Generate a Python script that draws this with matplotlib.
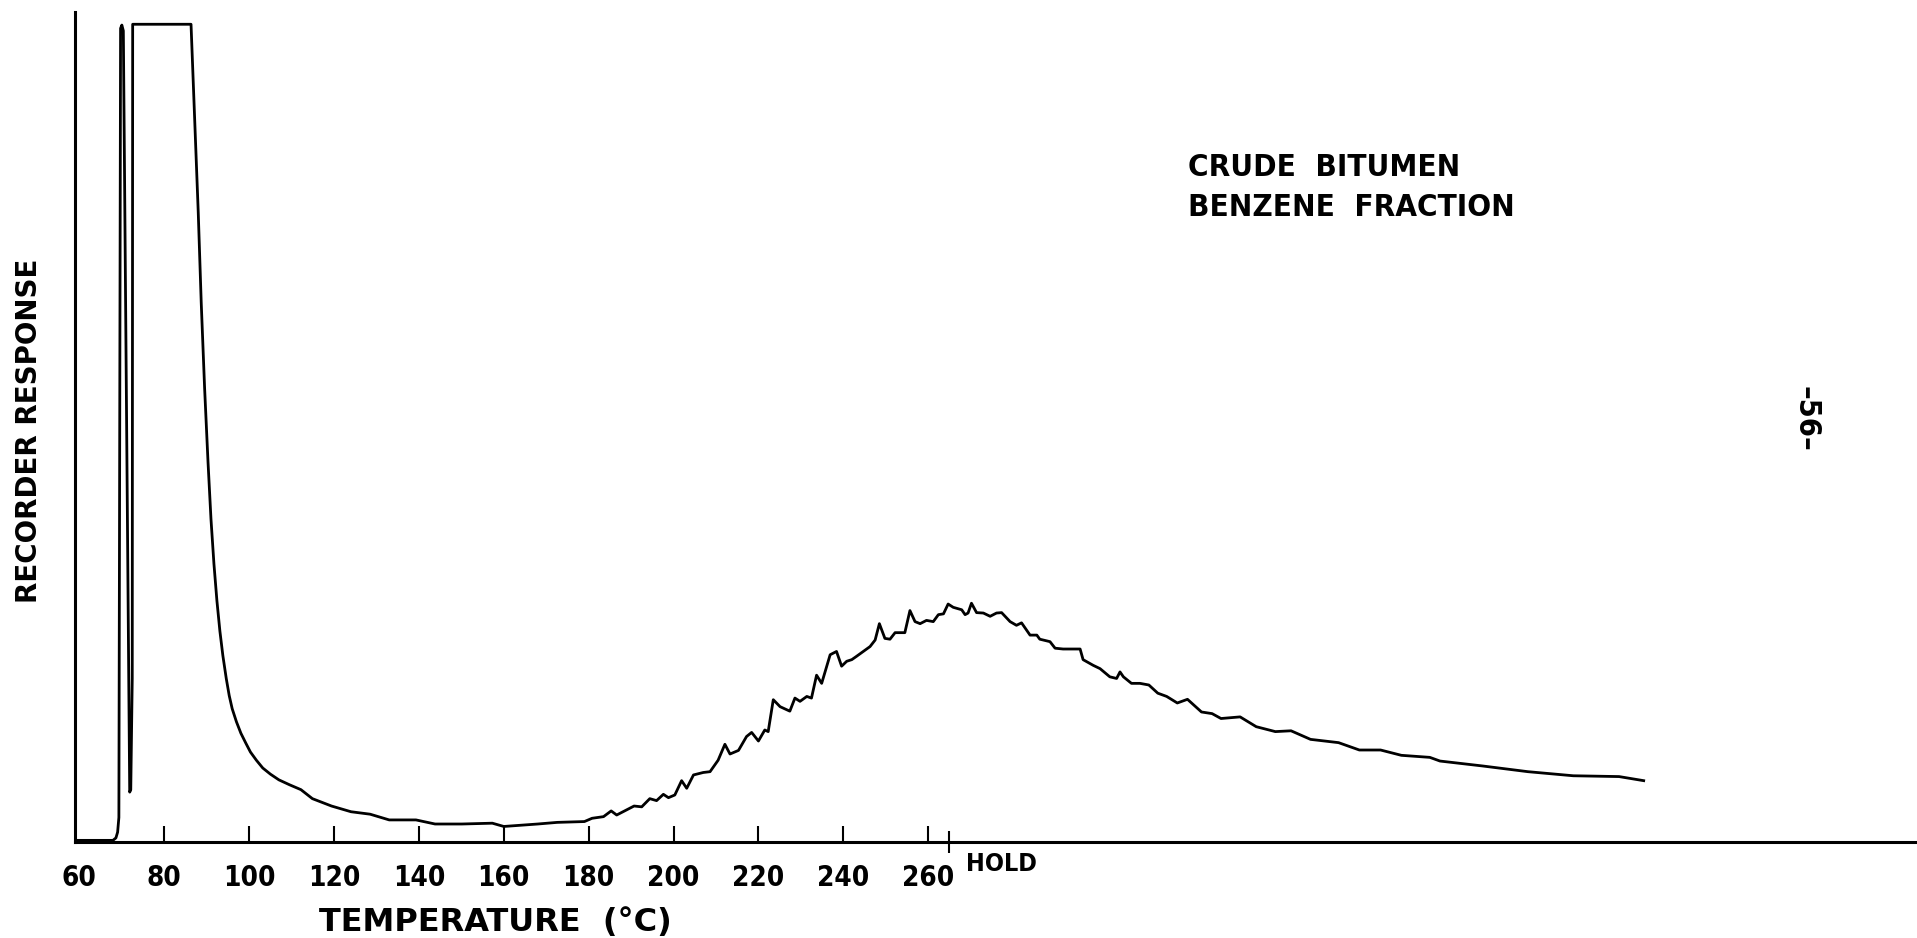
import matplotlib
matplotlib.use('Agg')
import matplotlib.pyplot as plt

plt.rcParams['font.family'] = 'DejaVu Sans'
plt.rcParams['font.weight'] = 'bold'
plt.rcParams['font.stretch'] = 'condensed'

# recorder trace: temperature (deg C, hold continues on same scale)
# and response in % of full scale
temp = [59.0, 67.9, 68.6, 69.0, 69.3, 69.7, 70.0, 70.35, 71.85, 72.1, 72.45, 72.55,
        86.3, 88.0, 88.7, 89.5, 90.3, 91.0, 91.7, 92.4, 93.1, 93.8, 94.6, 95.3,
        96.0, 97.0, 98.05, 99.2, 100.3, 101.7, 103.2, 105.0, 107.0, 109.5,
        112.2, 114.9, 119.4, 124.0, 128.5, 133.0, 139.3, 143.8, 150.1,
        157.3, 160.0, 168.0, 172.6, 179.0, 180.8, 183.5, 185.3, 186.6, 190.7, 192.5,
        194.4, 196.0, 197.6, 198.8, 200.3, 201.9, 203.1, 204.7, 207.0, 208.6, 210.5,
        212.1, 213.3, 215.3, 217.2, 218.4, 220.0, 221.5, 222.3, 223.5, 225.1, 227.4,
        228.6, 229.8, 231.4, 232.5, 233.7, 234.9, 236.9, 238.4, 239.6, 240.8, 242.0,
        243.1, 246.3, 247.5, 248.5, 249.8, 251.0, 252.2, 254.5, 255.7, 256.9, 258.1,
        259.6, 261.2, 262.4, 263.6, 264.7, 265.9, 267.9, 268.7, 269.4, 270.2, 271.4,
        273.0, 274.6, 276.1, 277.3, 279.3, 280.8, 282.0, 284.0, 285.6, 286.3, 288.7,
        289.9, 291.8, 295.8, 296.5, 298.9, 300.5, 302.8, 304.4, 305.2, 306.0, 307.9,
        309.9, 312.0, 314.1, 316.2, 318.7, 321.1, 324.4, 326.9, 329.0, 333.5, 337.3,
        341.8, 345.5, 350.1, 356.7, 361.6, 366.6, 371.5, 378.2, 380.6, 390.6, 401.3,
        412.0, 422.8, 428.6]
resp = [0.2, 0.2, 0.5, 1.2, 3.0, 99.5, 99.9, 99.2, 6.1, 6.4, 20.0, 100.0,
        100.0, 77.0, 66.0, 55.5, 46.5, 39.5, 34.0, 29.5, 25.8, 22.8, 20.0, 17.9,
        16.3, 14.7, 13.3, 12.1, 11.0, 10.0, 9.05, 8.3, 7.6, 7.0,
        6.4, 5.3, 4.4, 3.7, 3.4, 2.7, 2.7, 2.2, 2.2,
        2.3, 1.9, 2.2, 2.4, 2.5, 2.9, 3.1, 3.8, 3.3, 4.4, 4.3,
        5.3, 5.06, 5.83, 5.42, 5.75, 7.5, 6.57, 8.2, 8.5, 8.6, 10.0,
        11.95, 10.76, 11.2, 12.9, 13.4, 12.35, 13.7, 13.5, 17.4, 16.55, 16.0,
        17.6, 17.2, 17.8, 17.6, 20.4, 19.4, 22.9, 23.3, 21.5, 22.1, 22.3,
        22.7, 23.9, 24.7, 26.7, 24.9, 24.8, 25.6, 25.6, 28.3, 26.95, 26.7,
        27.1, 26.95, 27.8, 27.9, 29.1, 28.7, 28.4, 27.8, 28.0, 29.2, 28.05,
        28.0, 27.6, 28.0, 28.05, 26.95, 26.5, 26.8, 25.3, 25.3, 24.8, 24.5,
        23.7, 23.6, 23.6, 22.3, 21.6, 21.2, 20.2, 20.0, 20.8, 20.2, 19.4,
        19.4, 19.2, 18.2, 17.8, 17.0, 17.45, 15.9, 15.7, 15.1, 15.3, 14.1,
        13.5, 13.6, 12.55, 12.15, 11.25, 11.25, 10.6, 10.35, 9.9, 9.3, 8.6,
        8.1, 8.0, 7.5]

tick_temps = [60, 80, 100, 120, 140, 160, 180, 200, 220, 240, 260]
hold_temp = 265
sample_lines = ['CRUDE  BITUMEN', 'BENZENE  FRACTION']
page_label = '–56–'

fig = plt.figure(figsize=(19.17, 9.38), dpi=100)
ax = fig.add_axes([75 / 1917, 96 / 938, 1 - 75 / 1917, 830 / 938])

ax.plot(temp, resp, color='black', lw=2.0, solid_joinstyle='round')

ax.set_xlim(58.96, 493)
ax.set_ylim(0, 101.5)
ax.spines['top'].set_visible(False)
ax.spines['right'].set_visible(False)
ax.spines['left'].set_linewidth(2.2)
ax.spines['bottom'].set_linewidth(2.2)
ax.set_yticks([])

ax.set_xticks(tick_temps, [str(t) for t in tick_temps])
ax.tick_params(axis='x', which='major', direction='in', length=11.5, width=1.5,
               labelsize=20, pad=16)
ax.xaxis.get_major_ticks()[0].tick1line.set_visible(False)
ax.set_xticks([hold_temp], minor=True)
ax.tick_params(axis='x', which='minor', direction='inout', length=16, width=1.5)
ax.annotate('HOLD', xy=(hold_temp, 0), xycoords=('data', 'axes fraction'),
            xytext=(12, -16), textcoords='offset points', fontsize=18,
            ha='left', va='center')

ax.set_xlabel('TEMPERATURE  (°C)', fontsize=23, fontweight='bold',
              fontstretch='normal', va='center')
ax.xaxis.set_label_coords((495 - 75) / 1842, (842 - 922) / 830)
ax.set_ylabel('RECORDER RESPONSE', fontsize=20, fontweight='bold',
              fontstretch='normal', va='center')
ax.yaxis.set_label_coords((29 - 75) / 1842, (842 - 431) / 830)

for i, line in enumerate(sample_lines):
    fig.text(1188 / 1917, 1 - (168 + 39 * i) / 938, line, fontsize=22.5,
             ha='left', va='center')

fig.text(1806 / 1917, 1 - 419 / 938, page_label, rotation=-90, fontsize=22,
         ha='center', va='center')

fig.savefig('out.png', dpi=100)
